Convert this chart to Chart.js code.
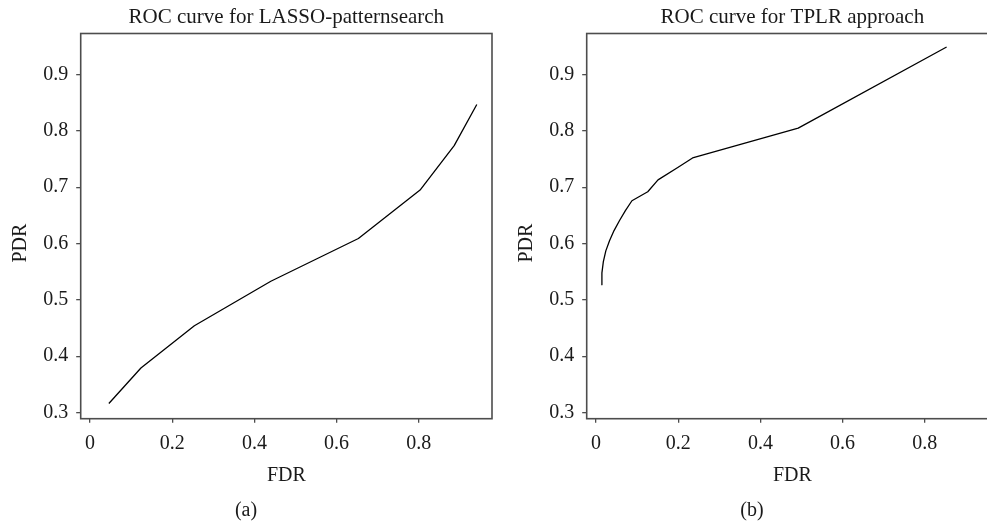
<!DOCTYPE html>
<html>
<head>
<meta charset="utf-8">
<script src="https://cdn.jsdelivr.net/npm/chart.js@4.4.1/dist/chart.umd.min.js"></script>
<style>
  body { margin: 0; background: #fff; overflow: hidden; width: 987px; height: 527px; position: relative; }
  .panel { position: absolute; top: 0; width: 494px; height: 527px; }
  #panel-a { left: 0; }
  #panel-b { left: 506px; }
</style>
</head>
<body>
<div class="panel" id="panel-a"><canvas id="chart-a"></canvas></div>
<div class="panel" id="panel-b"><canvas id="chart-b"></canvas></div>
<script>
// --- Data ---
const lassoFdr = [0.046, 0.124, 0.254, 0.44, 0.653, 0.803, 0.886, 0.941];
const lassoPdr = [0.316, 0.379, 0.454, 0.533, 0.609, 0.695, 0.774, 0.847];

const tplrFdr = [0.0129, 0.0145, 0.018, 0.024, 0.033, 0.044, 0.0574, 0.072, 0.0875, 0.126, 0.151, 0.199, 0.235, 0.492, 0.853];
const tplrPdr = [0.527, 0.548, 0.568, 0.587, 0.605, 0.623, 0.641, 0.659, 0.676, 0.692, 0.713, 0.735, 0.752, 0.805, 0.949];

const xTicks = [0, 0.2, 0.4, 0.6, 0.8];
const yTicks = [0.3, 0.4, 0.5, 0.6, 0.7, 0.8, 0.9];

const xMin = -0.0225, xMax = 0.978;
const yMin = 0.289, yMax = 0.973;

const FONT = 'Liberation Serif';
const TEXT = '#1a1a1a';
const AXIS = '#4d4d4d';

// frame round the plot area + rotated y title
const framePlugin = {
    id: 'frame',
    afterDraw(chart) {
        const { ctx, chartArea: a } = chart;
        ctx.save();
        ctx.strokeStyle = AXIS;
        ctx.lineWidth = 1.6;
        ctx.strokeRect(a.left, a.top, a.right - a.left, a.bottom - a.top);
        // y axis title, sits a bit below the middle in the original
        ctx.fillStyle = TEXT;
        ctx.font = `20px "${FONT}"`;
        ctx.textAlign = 'center';
        ctx.textBaseline = 'middle';
        ctx.translate(a.left - 60, (a.top + a.bottom) / 2 + 17);
        ctx.rotate(-Math.PI / 2);
        ctx.fillText('PDR', 0, 0);
        ctx.restore();
    }
};

function makeChart(id, title, caption, xs, ys) {
    const points = xs.map((x, i) => ({ x: x, y: ys[i] }));
    return new Chart(document.getElementById(id), {
        type: 'line',
        data: {
            datasets: [{
                data: points,
                borderColor: '#000',
                borderWidth: 1.3,
                borderJoinStyle: 'round',
                pointRadius: 0,
                fill: false,
                tension: 0
            }]
        },
        options: {
            responsive: true,
            maintainAspectRatio: false,
            animation: false,
            layout: { padding: { left: 0, right: 2, top: 0, bottom: 0 } },
            plugins: {
                legend: { display: false },
                tooltip: { enabled: false },
                title: {
                    display: true,
                    fullSize: false,
                    text: title,
                    color: TEXT,
                    font: { family: FONT, size: 21, weight: 'normal' },
                    padding: { top: 5, bottom: 3.3 }
                },
                subtitle: {
                    display: true,
                    position: 'bottom',
                    text: caption,
                    color: TEXT,
                    font: { family: FONT, size: 20, weight: 'normal' },
                    padding: { top: 0, bottom: 4 }
                }
            },
            scales: {
                x: {
                    type: 'linear',
                    min: xMin,
                    max: xMax,
                    afterBuildTicks: s => { s.ticks = xTicks.map(v => ({ value: v })); },
                    afterFit: s => { s.height = 80.3; },
                    border: { display: false },
                    grid: { drawOnChartArea: false, drawTicks: true, tickLength: 4, color: AXIS, lineWidth: 1.3 },
                    ticks: { color: TEXT, font: { family: FONT, size: 20 }, padding: 9 },
                    title: {
                        display: true,
                        text: 'FDR',
                        color: TEXT,
                        font: { family: FONT, size: 20 },
                        padding: { top: 0, bottom: 11 }
                    }
                },
                y: {
                    type: 'linear',
                    min: yMin,
                    max: yMax,
                    afterBuildTicks: s => { s.ticks = yTicks.map(v => ({ value: v })); },
                    afterFit: s => { s.width = 80.7; },
                    border: { display: false },
                    grid: { drawOnChartArea: false, drawTicks: true, tickLength: 4.5, color: AXIS, lineWidth: 1.3 },
                    ticks: { color: TEXT, font: { family: FONT, size: 20 }, padding: 8 }
                }
            }
        },
        plugins: [framePlugin]
    });
}

makeChart('chart-a', 'ROC curve for LASSO-patternsearch', '(a)', lassoFdr, lassoPdr);
makeChart('chart-b', 'ROC curve for TPLR approach', '(b)', tplrFdr, tplrPdr);
</script>
</body>
</html>
